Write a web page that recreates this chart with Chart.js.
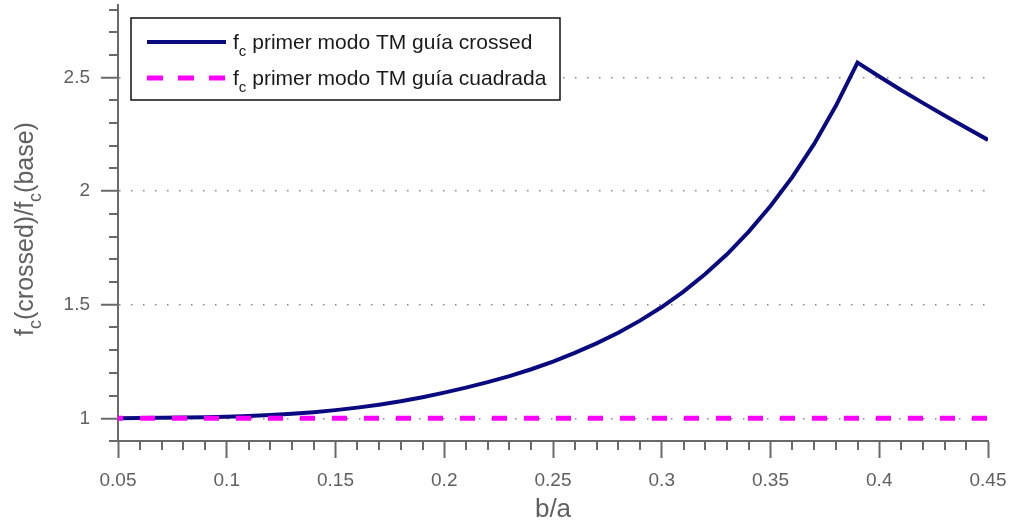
<!DOCTYPE html>
<html>
<head>
<meta charset="utf-8">
<script src="https://cdn.jsdelivr.net/npm/chart.js@4.4.0/dist/chart.umd.min.js"></script>
<style>
  html, body { margin: 0; padding: 0; background: #fff; }
</style>
</head>
<body>
<canvas id="grafico" width="1015" height="527"></canvas>
<script>
// valores
const razaoBA = [0.05, 0.06, 0.07, 0.08, 0.09, 0.10, 0.11, 0.12, 0.13, 0.14,
  0.15, 0.16, 0.17, 0.18, 0.19, 0.20, 0.21, 0.22, 0.23, 0.24,
  0.25, 0.26, 0.27, 0.28, 0.29, 0.30, 0.31, 0.32, 0.33, 0.34,
  0.35, 0.36, 0.37, 0.38, 0.39, 0.40, 0.41, 0.42, 0.43, 0.44, 0.45];
const guiaCrossed = [1.000, 1.001, 1.002, 1.003, 1.005, 1.007, 1.010, 1.014, 1.020, 1.027,
  1.036, 1.047, 1.060, 1.075, 1.093, 1.113, 1.135, 1.159, 1.186, 1.216,
  1.250, 1.288, 1.330, 1.377, 1.430, 1.490, 1.558, 1.635, 1.722, 1.822,
  1.935, 2.062, 2.207, 2.375, 2.566, 2.505, 2.446, 2.389, 2.333, 2.279, 2.226];
const cuadradaBA = [0.05, 0.45];
const guiaCuadrada = [1, 1];

const ticksX = [0.05, 0.1, 0.15, 0.2, 0.25, 0.3, 0.35, 0.4, 0.45];
const ticksY = [1, 1.5, 2, 2.5];

const familia = "'Liberation Sans', Arial, sans-serif";
const corEixo = '#6a6a6a';
const corTexto = '#606060';

function pontos(xs, ys) {
  return xs.map((x, i) => ({x: x, y: ys[i]}));
}

// desenha texto com subscrito, partes = [[texto, ehSub], ...]
function larguraTexto(ctx, partes, tam) {
  let w = 0;
  partes.forEach(([t, sub]) => {
    ctx.font = (sub ? tam * 0.72 : tam) + 'px ' + familia;
    w += ctx.measureText(t).width;
  });
  return w;
}
function escreveComSub(ctx, partes, x, y, tam) {
  let cx = x;
  partes.forEach(([t, sub]) => {
    ctx.font = (sub ? tam * 0.72 : tam) + 'px ' + familia;
    ctx.fillText(t, cx, sub ? y + tam * 0.32 : y);
    cx += ctx.measureText(t).width;
  });
}

const ticksMenores = {
  id: 'ticksMenores',
  afterDraw(chart) {
    const ctx = chart.ctx;
    const sx = chart.scales.x, sy = chart.scales.y;
    ctx.save();
    ctx.strokeStyle = corEixo;
    ctx.lineWidth = 2;
    ctx.beginPath();
    for (let i = 5; i <= 45; i++) {
      if (i % 5 === 0) continue;
      const px = Math.round(sx.getPixelForValue(i / 100));
      ctx.moveTo(px, sy.bottom);
      ctx.lineTo(px, sy.bottom + 9);
    }
    for (let j = 9; j <= 28; j++) {
      if (j % 5 === 0) continue;
      const py = Math.round(sy.getPixelForValue(j / 10));
      ctx.moveTo(sx.left, py);
      ctx.lineTo(sx.left - 9, py);
    }
    ctx.stroke();
    ctx.restore();
  }
};

const tituloY = {
  id: 'tituloY',
  afterDraw(chart) {
    const ctx = chart.ctx;
    const partes = [['f', false], ['c', true], ['(crossed)/', false], ['f', false], ['c', true], ['(base)', false]];
    const tam = 25;
    ctx.save();
    ctx.fillStyle = corTexto;
    ctx.textBaseline = 'alphabetic';
    ctx.translate(33, 229);
    ctx.rotate(-Math.PI / 2);
    const w = larguraTexto(ctx, partes, tam);
    escreveComSub(ctx, partes, -w / 2, 0, tam);
    ctx.restore();
  }
};

const legenda = {
  id: 'legenda',
  afterDraw(chart) {
    const ctx = chart.ctx;
    ctx.save();
    ctx.fillStyle = '#fff';
    ctx.fillRect(131, 18, 429, 82);
    ctx.strokeStyle = '#111';
    ctx.lineWidth = 1.5;
    ctx.strokeRect(131, 18, 429, 82);

    const linhas = [
      {y: 42, cor: '#0a0a80', larg: 4, dash: [], texto: ' primer modo TM guía crossed'},
      {y: 78, cor: '#ff00ff', larg: 5, dash: [16, 15], texto: ' primer modo TM guía cuadrada'}
    ];
    linhas.forEach(l => {
      ctx.beginPath();
      ctx.strokeStyle = l.cor;
      ctx.lineWidth = l.larg;
      ctx.setLineDash(l.dash);
      ctx.moveTo(147, l.y);
      ctx.lineTo(226, l.y);
      ctx.stroke();
      ctx.setLineDash([]);
      ctx.fillStyle = '#1a1a1a';
      ctx.textBaseline = 'alphabetic';
      escreveComSub(ctx, [['f', false], ['c', true], [l.texto, false]], 233, l.y + 7, 21);
    });
    ctx.restore();
  }
};

new Chart(document.getElementById('grafico'), {
  type: 'line',
  data: {
    datasets: [{
      label: 'fc primer modo TM guía crossed',
      data: pontos(razaoBA, guiaCrossed),
      borderColor: '#0a0a80',
      borderWidth: 4,
      pointRadius: 0,
      tension: 0,
      fill: false,
      order: 1
    }, {
      label: 'fc primer modo TM guía cuadrada',
      data: pontos(cuadradaBA, guiaCuadrada),
      borderColor: '#ff00ff',
      borderWidth: 5,
      borderDash: [15, 17],
      borderDashOffset: 10,
      pointRadius: 0,
      fill: false,
      order: 0
    }]
  },
  options: {
    responsive: false,
    animation: false,
    layout: {padding: {top: 5, right: 27, left: 0, bottom: 0}},
    plugins: {
      legend: {display: false},
      tooltip: {enabled: false}
    },
    scales: {
      x: {
        type: 'linear',
        min: 0.05,
        max: 0.45,
        afterBuildTicks: s => { s.ticks = ticksX.map(v => ({value: v})); },
        afterFit: s => { s.height = 86; s.paddingLeft = 0; s.paddingRight = 0; },
        grid: {drawOnChartArea: false, tickLength: 17, tickColor: corEixo, tickWidth: 2},
        border: {color: corEixo, width: 2},
        ticks: {
          font: {family: familia, size: 19},
          color: corTexto,
          padding: 11,
          maxRotation: 0,
          autoSkip: false,
          callback: v => String(v)
        },
        title: {
          display: true,
          text: 'b/a',
          font: {family: familia, size: 26},
          color: corTexto,
          padding: {top: 0, bottom: 2}
        }
      },
      y: {
        min: 0.9,
        max: 2.82,
        afterBuildTicks: s => { s.ticks = ticksY.map(v => ({value: v})); },
        afterFit: s => { s.width = 118; s.paddingTop = 0; s.paddingBottom = 0; },
        grid: {color: '#8a8a8a', lineWidth: 1.5, tickLength: 17, tickColor: corEixo, tickWidth: 2},
        border: {color: corEixo, width: 2, dash: [1.5, 10.5]},
        ticks: {
          font: {family: familia, size: 19},
          color: corTexto,
          padding: 11,
          callback: v => String(v)
        }
      }
    }
  },
  plugins: [ticksMenores, tituloY, legenda]
});
</script>
</body>
</html>
